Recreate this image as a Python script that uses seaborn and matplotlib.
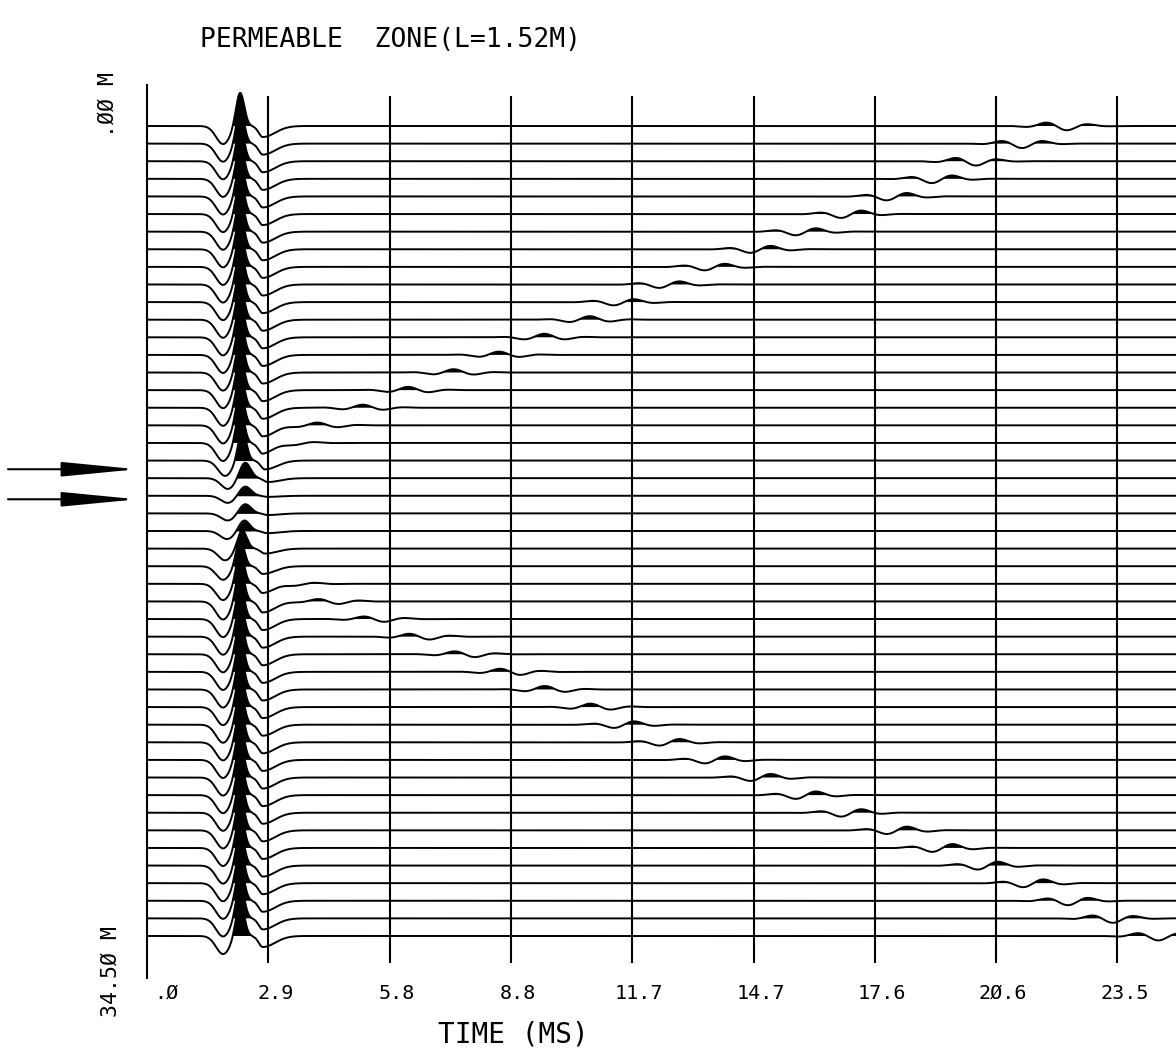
import numpy as np
import pandas as pd
import matplotlib
matplotlib.use("Agg")
import matplotlib.pyplot as plt
import matplotlib.transforms as mtransforms
import seaborn as sns

# ---------------- data ----------------
TITLE = "PERMEABLE  ZONE(L=1.52M)"
X_LABEL = "TIME (MS)"
TOP_DEPTH_LABEL = ".ØØ M"
BOTTOM_DEPTH_LABEL = "34.5Ø M"

TICK_STEP_MS = 2.9333
TICK_LABELS = [".Ø", "2.9", "5.8", "8.8", "11.7", "14.7", "17.6", "2Ø.6", "23.5"]

FIRST_DEPTH_M = 0.0
LAST_DEPTH_M = 34.5
N_TRACES = 47

# arrows marking the permeable zone (depth, m)
ZONE_ARROW_DEPTHS = [14.62, 15.90]

# direct wave: lobe times (ms) and amplitudes (m of trace offset)
DIRECT_LOBE_TIMES = [1.84, 2.25, 2.80]
DIRECT_LOBE_AMPS = [-0.77, 1.45, -0.47]

# per-trace gains of the direct wave (first trough, peak, second trough)
PEAK_GAIN = [1, 1, 1, 1, 1, 1, 1, 1, 1, 1, 1, 1, 1, 1, 1, 1, 1, 1, 1,
             0.9, 0.47, 0.28, 0.28, 0.32, 0.55, 0.8, 0.92,
             1, 1, 1, 1, 1, 1, 1, 1, 1, 1, 1, 1, 1, 1, 1, 1, 1, 1, 1, 1]
TROUGH1_GAIN = [1, 1, 1, 1, 1, 1, 1, 1, 1, 1, 1, 1, 1, 1, 1, 1, 1, 1, 1,
                0.85, 0.6, 0.4, 0.4, 0.45, 0.65, 0.75, 0.9,
                1, 1, 1, 1, 1, 1, 1, 1, 1, 1, 1, 1, 1, 1, 1, 1, 1, 1, 1, 1]
TROUGH2_GAIN = [1, 1, 1, 1, 1, 1, 1, 1, 1, 1, 1, 1, 1, 1, 1, 1, 1, 1, 1,
                0.8, 0.35, 0.1, 0.15, 0.2, 0.45, 0.7, 0.85,
                1, 1, 1, 1, 1, 1, 1, 1, 1, 1, 1, 1, 1, 1, 1, 1, 1, 1, 1, 1]
DIRECT_DELAY_MS = [0] * 19 + [0.05, 0.12, 0.12, 0.12, 0.1, 0.05, 0, 0] + [0] * 20
PEAK_WIDTH_MS = [0.1] * 19 + [0.1, 0.13, 0.14, 0.14, 0.13, 0.11, 0.1, 0.1] + [0.1] * 20

# secondary (tube) waves leaving the zone: packet centre (ms) and amplitude (m)
REFL_CENTER_MS = [22.10, 21.16, 19.93, 19.11, 18.07, 16.98, 15.89, 14.81, 13.67,
                  12.58, 11.47, 10.65, 9.61, 8.53, 7.44, 6.35, 5.27, 4.18, 3.45,
                  3.3, 3.3, 3.3, 3.3, 3.3, 3.3, 3.3,
                  3.62, 4.42, 5.53, 6.59, 7.68, 8.77, 9.69, 10.82, 11.55, 12.63,
                  13.74, 14.86, 15.92, 16.98, 18.14, 19.23, 20.31, 21.40, 22.32,
                  23.31, 24.42]
REFL_AMP = [0.19, 0.19, 0.19, 0.19, 0.18, 0.18, 0.17, 0.17, 0.16, 0.16, 0.15,
            0.15, 0.15, 0.14, 0.14, 0.14, 0.13, 0.12, 0.08,
            0, 0, 0, 0, 0, 0, 0,
            0.07, 0.12, 0.13, 0.14, 0.14, 0.15, 0.15, 0.15, 0.16, 0.16, 0.17,
            0.17, 0.18, 0.18, 0.18, 0.19, 0.19, 0.19, 0.19, 0.19, 0.19]
REFL_PERIOD_MS = 1.10
REFL_TROUGH_REF_MS = 11.26

# ---------------- build traces ----------------
depths = np.linspace(FIRST_DEPTH_M, LAST_DEPTH_M, N_TRACES)
t = np.arange(0.0, 24.9, 0.008)


def gauss(x, c, s):
    return np.exp(-0.5 * ((x - c) / s) ** 2)


def asym(x, c, sl, sr):
    s = np.where(x < c, sl, sr)
    return np.exp(-0.5 * ((x - c) / s) ** 2)


rows = []
traces = []
for i, d in enumerate(depths):
    sh = DIRECT_DELAY_MS[i]
    w = (DIRECT_LOBE_AMPS[0] * TROUGH1_GAIN[i] * gauss(t, DIRECT_LOBE_TIMES[0] + sh, 0.17)
         + DIRECT_LOBE_AMPS[1] * PEAK_GAIN[i] * gauss(t, DIRECT_LOBE_TIMES[1] + sh, PEAK_WIDTH_MS[i])
         + DIRECT_LOBE_AMPS[2] * TROUGH2_GAIN[i] * asym(t, DIRECT_LOBE_TIMES[2] + sh, 0.10, 0.30))
    w = w + REFL_AMP[i] * gauss(t, REFL_CENTER_MS[i], 0.5) * (
        -np.cos(2 * np.pi * (t - REFL_TROUGH_REF_MS) / REFL_PERIOD_MS))
    y = d - w
    traces.append((d, y))
    rows.append(pd.DataFrame({"time": t, "y": y, "trace": i}))
df = pd.concat(rows, ignore_index=True)

# ---------------- figure ----------------
sns.set_theme(style="white")
plt.rcParams["font.family"] = ["DejaVu Sans Mono", "DejaVu Sans"]
plt.rcParams["text.color"] = "black"
plt.rcParams["xtick.color"] = "black"
plt.rcParams["axes.labelcolor"] = "black"

W, H = 1176, 1060
fig = plt.figure(figsize=(W / 100, H / 100), dpi=100)
ax_left, ax_bottom, ax_top = 147, 978, 85
ax = fig.add_axes([ax_left / W, 1 - ax_bottom / H, 1 - ax_left / W, (ax_bottom - ax_top) / H])

sns.lineplot(data=df, x="time", y="y", units="trace", estimator=None,
             color="black", lw=1.4, sort=False, legend=False, ax=ax)
for d, y in traces:
    ax.fill_between(t, d, y, where=y < d, interpolate=True, color="black", lw=0)

px_per_ms = 121.3 / TICK_STEP_MS
ax.set_xlim(0, (W - ax_left) / px_per_ms)
ax.set_ylim(36.29, -1.746)

ticks = [k * TICK_STEP_MS for k in range(len(TICK_LABELS))]
ax.vlines(ticks[1:], -1.28, 35.65, color="black", lw=1.5)

ax.set_xticks(ticks)
ax.set_xticklabels(TICK_LABELS, fontsize=14.5, color="black")
ax.tick_params(axis="x", length=0, pad=4, colors="black")
for k, lab in enumerate(ax.get_xticklabels()):
    dx = 19 if k == 0 else 7
    lab.set_transform(lab.get_transform() + mtransforms.ScaledTranslation(dx / 100, 0, fig.dpi_scale_trans))
ax.set_yticks([])
ax.set_xlabel("")
ax.set_ylabel("")

for s in ["top", "right", "bottom"]:
    ax.spines[s].set_visible(False)
ax.spines["left"].set_color("black")
ax.spines["left"].set_linewidth(1.5)

fig.text(390 / W, 1 - 40 / H, TITLE, ha="center", va="center", fontsize=19, color="black")
fig.text(513 / W, 1 - 1035 / H, X_LABEL, ha="center", va="center", fontsize=20, color="black")
fig.text(108 / W, 1 - 137 / H, TOP_DEPTH_LABEL, rotation=90, ha="center", va="bottom",
         fontsize=15.5, color="black")
fig.text(111 / W, 1 - 1017 / H, BOTTOM_DEPTH_LABEL, rotation=90, ha="center", va="bottom",
         fontsize=15.5, color="black")

for zd in ZONE_ARROW_DEPTHS:
    ax.annotate("", xy=(137 / W, zd), xycoords=("figure fraction", "data"),
                xytext=(8 / W, zd), textcoords=("figure fraction", "data"),
                arrowprops=dict(arrowstyle="-|>,head_length=3.1,head_width=0.3",
                                color="black", lw=1.5, mutation_scale=15,
                                shrinkA=0, shrinkB=0),
                annotation_clip=False)

fig.savefig("out.png", dpi=100)
